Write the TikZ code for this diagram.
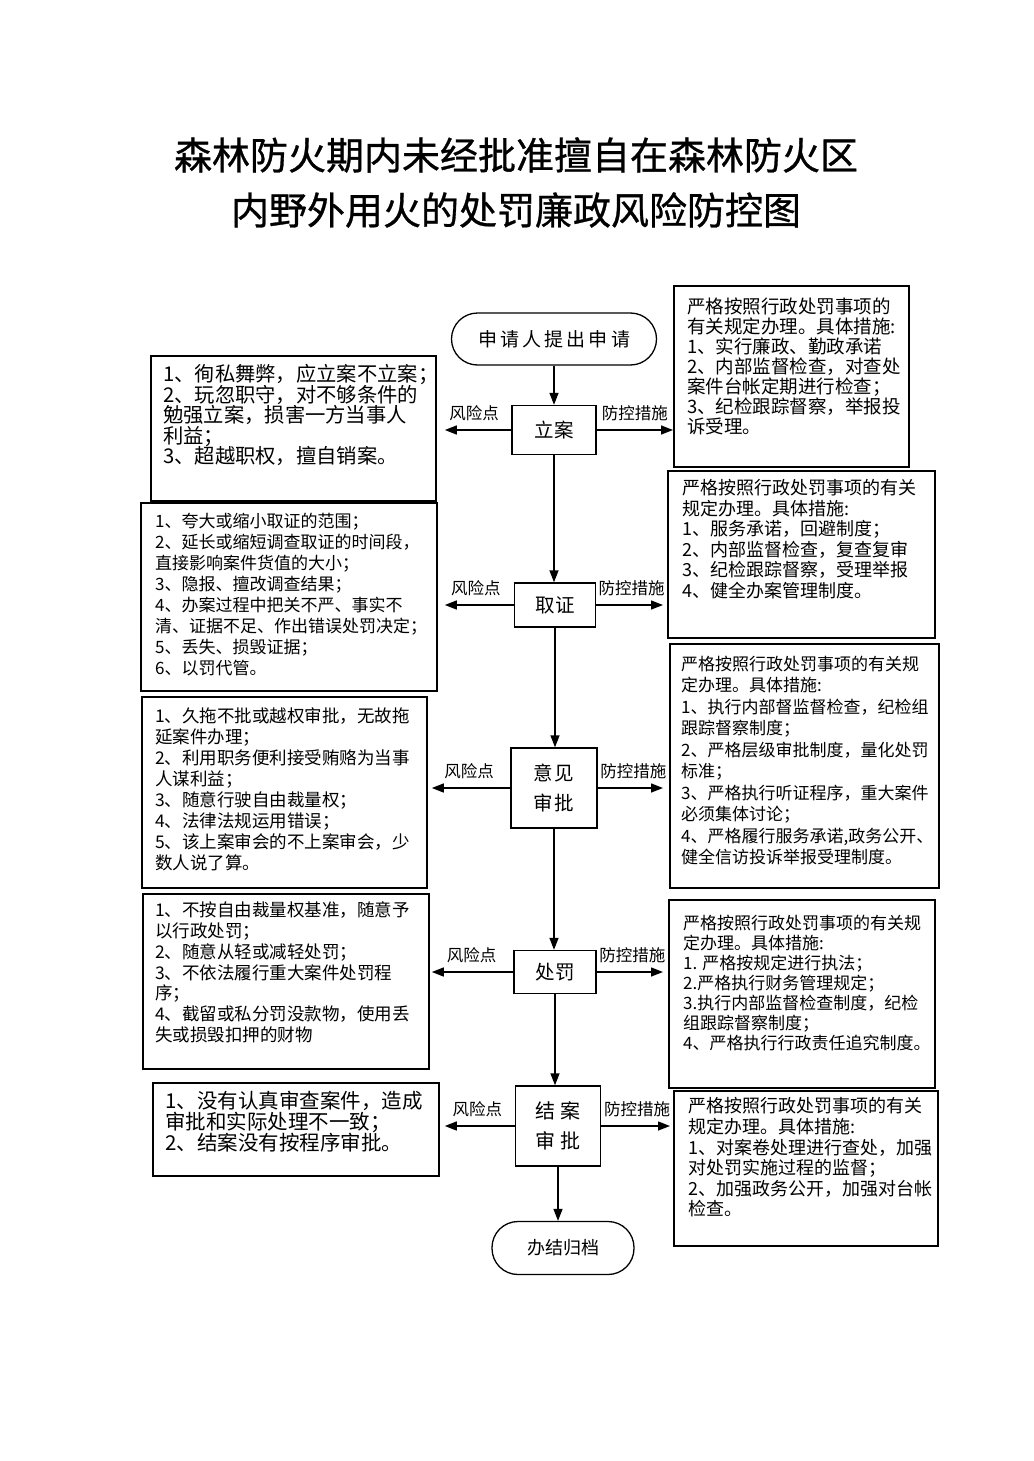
\documentclass[tikz,border=0pt]{standalone}
\usepackage{fontspec}
\setmainfont{Noto Sans CJK SC}
\newfontfamily\titlefont{Noto Sans CJK SC}[FakeBold=0.8]
\usetikzlibrary{arrows.meta}
\newcommand{\setfs}[2]{\fontsize{#1}{#2}\selectfont}

\tikzset{
  box/.style={draw, line width=1.8pt, inner sep=0pt, anchor=north west},
  note/.style={anchor=north west, inner sep=0pt, align=left},
  stepbox/.style={draw, line width=1.4pt, align=center, inner sep=0pt},
  terminal/.style={draw, line width=1.3pt, rounded corners=26pt, inner sep=0pt},
  flow/.style={-{Triangle[length=12pt,width=9pt]}, line width=1.4pt},
  tag/.style={midway, above=7pt, inner sep=1pt, font=\setfs{16.5}{16.5}}
}

\begin{document}
\begin{tikzpicture}[x=1pt,y=-1pt]
    \useasboundingbox[fill=white] (0,0) rectangle (1033,1461);

    % title
    \node[font=\titlefont\setfs{38}{38}] (title1) at (516,155) {森林防火期内未经批准擅自在森林防火区};
    \node[font=\titlefont\setfs{38}{38}] (title2) at (516,210) {内野外用火的处罚廉政风险防控图};

    % main flow
    \node[terminal, minimum width=205pt, minimum height=52pt, font=\setfs{19}{19}] (start) at (554,339) {申\,请\,人\,提\,出\,申\,请};
    \node[stepbox, minimum width=84pt, minimum height=49pt, font=\setfs{19.5}{19.5}] (lian) at (554,430) {立案};
    \node[stepbox, minimum width=81pt, minimum height=44pt, font=\setfs{19.5}{19.5}] (quzheng) at (555,605) {取证};
    \node[stepbox, minimum width=86pt, minimum height=80pt, font=\setfs{19.5}{30}] (shenpi) at (554,788) {意\hspace{2pt}见\\审\hspace{2pt}批};
    \node[stepbox, minimum width=82pt, minimum height=43pt, font=\setfs{19.5}{19.5}] (chufa) at (555,972) {处罚};
    \node[stepbox, minimum width=85pt, minimum height=80pt, font=\setfs{20}{30}] (jiean) at (558,1126) {结\hspace{5pt}案\\审\hspace{5pt}批};
    \node[terminal, minimum width=142pt, minimum height=53pt, font=\setfs{18}{18}] (finish) at (563,1248) {办结归档};

    % risk points (left)
    \node[box, minimum width=285pt, minimum height=145pt] (risk1) at (150,355) {};
    \node[note, font=\setfs{20.3}{20.5}] (risk1t) at (163,364.4) {1、徇私舞弊，应立案不立案；\\2、玩忽职守，对不够条件的\\勉强立案，损害一方当事人\\利益；\\3、超越职权，擅自销案。};
    \node[box, minimum width=296pt, minimum height=188pt] (risk2) at (140,502) {};
    \node[note, font=\setfs{17}{21}] (risk2t) at (155,512.9) {1、夸大或缩小取证的范围；\\2、延长或缩短调查取证的时间段，\\直接影响案件货值的大小；\\3、隐报、擅改调查结果；\\4、办案过程中把关不严、事实不\\清、证据不足、作出错误处罚决定；\\5、丢失、损毁证据；\\6、以罚代管。};
    \node[box, minimum width=285pt, minimum height=191pt] (risk3) at (141,696) {};
    \node[note, font=\setfs{17.5}{21}] (risk3t) at (155,707.6) {1、久拖不批或越权审批，无故拖\\延案件办理；\\2、利用职务便利接受贿赂为当事\\人谋利益；\\3、随意行驶自由裁量权；\\4、法律法规运用错误；\\5、该上案审会的不上案审会，少\\数人说了算。};
    \node[box, minimum width=286pt, minimum height=175pt] (risk4) at (142,893) {};
    \node[note, font=\setfs{17.5}{20.8}] (risk4t) at (155,901.6) {1、不按自由裁量权基准，随意予\\以行政处罚；\\2、随意从轻或减轻处罚；\\3、不依法履行重大案件处罚程\\序；\\4、截留或私分罚没款物，使用丢\\失或损毁扣押的财物};
    \node[box, minimum width=286pt, minimum height=93pt] (risk5) at (152,1082) {};
    \node[note, font=\setfs{20.5}{20.3}] (risk5t) at (165,1091.4) {1、没有认真审查案件，造成\\审批和实际处理不一致；\\2、结案没有按程序审批。};

    % control measures (right)
    \node[box, minimum width=235pt, minimum height=181pt] (meas1) at (673,285) {};
    \node[note, font=\setfs{18.5}{20}] (meas1t) at (687,297.2) {严格按照行政处罚事项的\\有关规定办理。具体措施:\\1、实行廉政、勤政承诺\\2、内部监督检查，对查处\\案件台帐定期进行检查；\\3、纪检跟踪督察，举报投\\诉受理。};
    \node[box, minimum width=267pt, minimum height=167pt] (meas2) at (667,470) {};
    \node[note, font=\setfs{18}{20.5}] (meas2t) at (682,479.4) {严格按照行政处罚事项的有关\\规定办理。具体措施:\\1、服务承诺，回避制度；\\2、内部监督检查，复查复审\\3、纪检跟踪督察，受理举报\\4、健全办案管理制度。};
    \node[box, minimum width=269pt, minimum height=244pt] (meas3) at (669,643) {};
    \node[note, font=\setfs{17}{21.5}] (meas3t) at (681,655.9) {严格按照行政处罚事项的有关规\\定办理。具体措施:\\1、执行内部督监督检查，纪检组\\跟踪督察制度；\\2、严格层级审批制度，量化处罚\\标准；\\3、严格执行听证程序，重大案件\\必须集体讨论；\\4、严格履行服务承诺,政务公开、\\健全信访投诉举报受理制度。};
    \node[box, minimum width=266pt, minimum height=188pt] (meas4) at (668,899) {};
    \node[note, font=\setfs{17}{20}] (meas4t) at (683,914.9) {严格按照行政处罚事项的有关规\\定办理。具体措施:\\1. 严格按规定进行执法；\\2.严格执行财务管理规定；\\3.执行内部监督检查制度，纪检\\组跟踪督察制度；\\4、严格执行行政责任追究制度。};
    \node[box, minimum width=264pt, minimum height=155pt] (meas5) at (673,1090) {};
    \node[note, font=\setfs{18}{20.6}] (meas5t) at (688,1097.4) {严格按照行政处罚事项的有关\\规定办理。具体措施:\\1、对案卷处理进行查处，加强\\对处罚实施过程的监督；\\2、加强政务公开，加强对台帐\\检查。};

    % vertical arrows
    \draw[flow] (start.south) -- (start.south |- lian.north);
    \draw[flow] (lian.south) -- (lian.south |- quzheng.north);
    \draw[flow] (quzheng.south) -- (quzheng.south |- shenpi.north);
    \draw[flow] (shenpi.south) -- (shenpi.south |- chufa.north);
    \draw[flow] (chufa.south) -- (chufa.south |- jiean.north);
    \draw[flow] (jiean.south) -- (jiean.south |- finish.north);

    % risk arrows
    \draw[flow, shorten >=8pt] (lian.west) -- (lian.west -| risk1.east) node[tag] {风险点};
    \draw[flow, shorten >=7pt] (quzheng.west) -- (quzheng.west -| risk2.east) node[tag] {风险点};
    \draw[flow, shorten >=4pt] (shenpi.west) -- (shenpi.west -| risk3.east) node[tag] {风险点};
    \draw[flow, shorten >=2pt] (chufa.west) -- (chufa.west -| risk4.east) node[tag] {风险点};
    \draw[flow, shorten >=5pt] (jiean.west) -- (jiean.west -| risk5.east) node[tag] {风险点};

    % control arrows
    \draw[flow] (lian.east) -- (lian.east -| meas1.west) node[tag] {防控措施};
    \draw[flow, shorten >=4pt] (quzheng.east) -- (quzheng.east -| meas2.west) node[tag] {防控措施};
    \draw[flow, shorten >=6pt] (shenpi.east) -- (shenpi.east -| meas3.west) node[tag] {防控措施};
    \draw[flow, shorten >=5pt] (chufa.east) -- (chufa.east -| meas4.west) node[tag] {防控措施};
    \draw[flow, shorten >=3pt] (jiean.east) -- (jiean.east -| meas5.west) node[tag] {防控措施};
\end{tikzpicture}
\end{document}
